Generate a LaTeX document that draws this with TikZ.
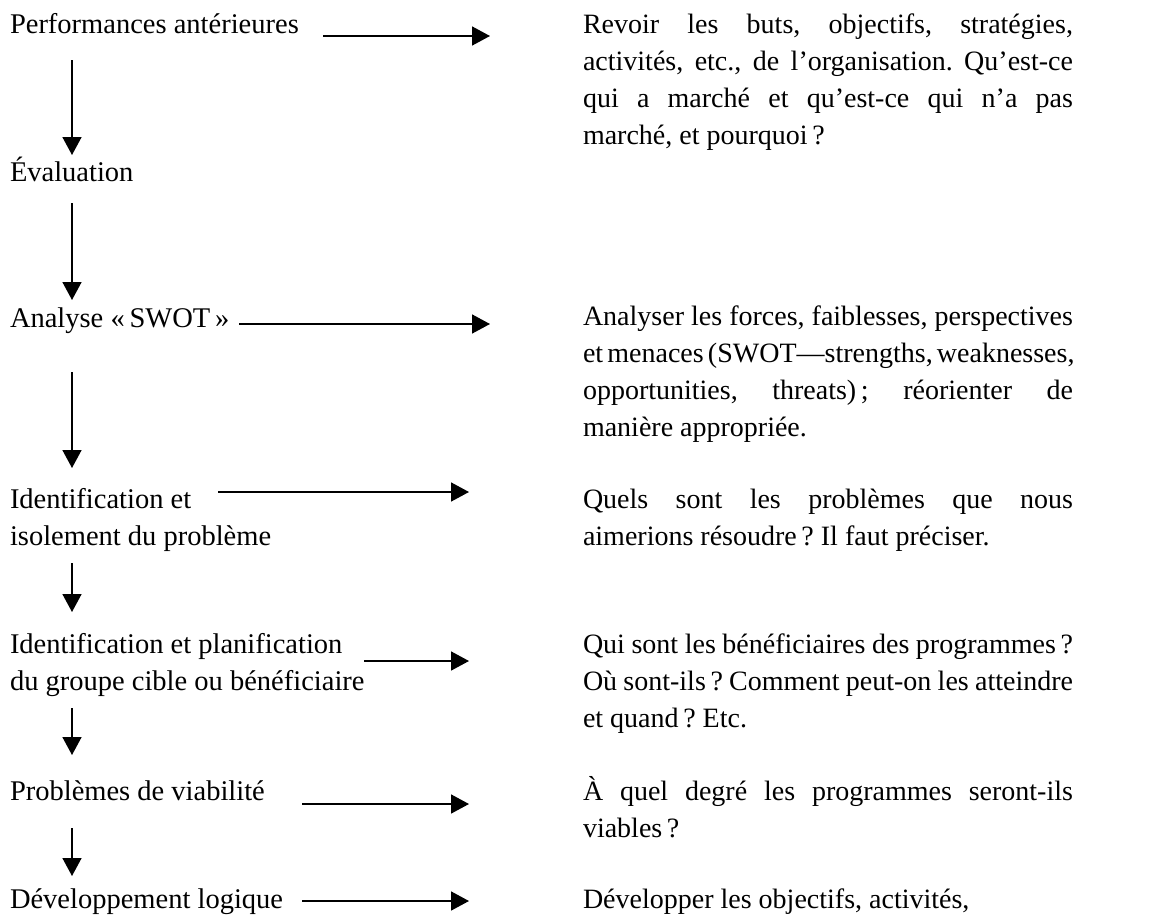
\documentclass[tikz,border=0pt]{standalone}
\usepackage{fontspec}
\setmainfont{Liberation Serif}
\usetikzlibrary{arrows.meta}
\newcommand\jline[1]{\leavevmode\hbox to 490pt{\spaceskip=.25em plus 1fil minus .1em\relax #1}}
\begin{document}
\begin{tikzpicture}[x=1pt,y=-1pt,
  txt/.style={inner sep=0pt,outer sep=0pt,anchor=base west,
    font=\fontsize{28.5pt}{37pt}\selectfont\frenchspacing,align=justify},
  rtxt/.style={txt,text width=490pt,font=\fontsize{28pt}{37pt}\selectfont\frenchspacing},
  ltxt/.style={txt,text width=450pt},
  flow/.style={line width=1.6pt,-{Triangle[length=18pt,width=19pt]}}]
\useasboundingbox[fill=white] (0,0) rectangle (1173,916);

% left column
\node[ltxt] (L1) at (10,33) {Performances antérieures};
\node[ltxt] (L2) at (10,181) {Évaluation};
\node[ltxt] (L3) at (10,327) {Analyse «\,SWOT\,»};
\node[ltxt] (L4) at (10,508) {Identification et\\isolement du problème};
\node[ltxt] (L5) at (10,653) {Identification et planification\\du groupe cible ou bénéficiaire};
\node[ltxt] (L6) at (10,800) {Problèmes de viabilité};
\node[ltxt] (L7) at (10,908) {Développement logique};

% right column
\node[rtxt] (R1) at (583,33) {\jline{Revoir les buts, objectifs, stratégies,}\\
  \jline{activités, etc., de l’organisation. Qu’est-ce}\\
  \jline{qui a marché et qu’est-ce qui n’a pas}\\
  marché, et pourquoi\,?};
\node[rtxt] (R2) at (583,325) {\jline{Analyser les forces, faiblesses, perspectives}\\
  \jline{et menaces (SWOT—strengths, weaknesses,}\\
  \jline{opportunities, threats)\,; réorienter de}\\
  manière appropriée.};
\node[rtxt] (R3) at (583,508) {\jline{Quels sont les problèmes que nous}\\
  aimerions résoudre\,? Il faut préciser.};
\node[rtxt] (R4) at (583,653) {\jline{Qui sont les bénéficiaires des programmes\,?}\\
  \jline{Où sont-ils\,? Comment peut-on les atteindre}\\
  et quand\,? Etc.};
\node[rtxt] (R5) at (583,800) {\jline{À quel degré les programmes seront-ils}\\
  viables\,?};
\node[rtxt] (R6) at (583,908) {Développer les objectifs, activités,};

% vertical flow
\draw[flow] ([xshift=62pt,yshift=-27pt]L1.base west) -- ([xshift=62pt,yshift=26pt]L2.base west);
\draw[flow] ([xshift=62pt,yshift=-22pt]L2.base west) -- ([xshift=62pt,yshift=27pt]L3.base west);
\draw[flow] ([xshift=62pt,yshift=-45pt]L3.base west) -- ([xshift=62pt,yshift=40pt]L4.base west);
\draw[flow] ([xshift=62pt,yshift=-55pt]L4.base west) -- ([xshift=62pt,yshift=41pt]L5.base west);
\draw[flow] ([xshift=62pt,yshift=-55pt]L5.base west) -- ([xshift=62pt,yshift=45pt]L6.base west);
\draw[flow] ([xshift=62pt,yshift=-28pt]L6.base west) -- ([xshift=62pt,yshift=32pt]L7.base west);

% horizontal links
\coordinate (h1s) at ([xshift=313pt,yshift=-3pt]L1.base west);
\coordinate (h1e) at ([xshift=-93pt]R1.base west);
\draw[flow] (h1s) -- (h1s -| h1e);
\coordinate (h2s) at ([xshift=229pt,yshift=3pt]L3.base west);
\coordinate (h2e) at ([xshift=-93pt]R2.base west);
\draw[flow] (h2s) -- (h2s -| h2e);
\coordinate (h3s) at ([xshift=208pt,yshift=16pt]L4.base west);
\coordinate (h3e) at ([xshift=-114pt]R3.base west);
\draw[flow] (h3s) -- (h3s -| h3e);
\coordinate (h4s) at ([xshift=354pt,yshift=-8pt]L5.base west);
\coordinate (h4e) at ([xshift=-114pt]R4.base west);
\draw[flow] (h4s) -- (h4s -| h4e);
\coordinate (h5s) at ([xshift=292pt,yshift=-4pt]L6.base west);
\coordinate (h5e) at ([xshift=-114pt]R5.base west);
\draw[flow] (h5s) -- (h5s -| h5e);
\coordinate (h6s) at ([xshift=292pt,yshift=7pt]L7.base west);
\coordinate (h6e) at ([xshift=-114pt]R6.base west);
\draw[flow] (h6s) -- (h6s -| h6e);
\end{tikzpicture}
\end{document}
